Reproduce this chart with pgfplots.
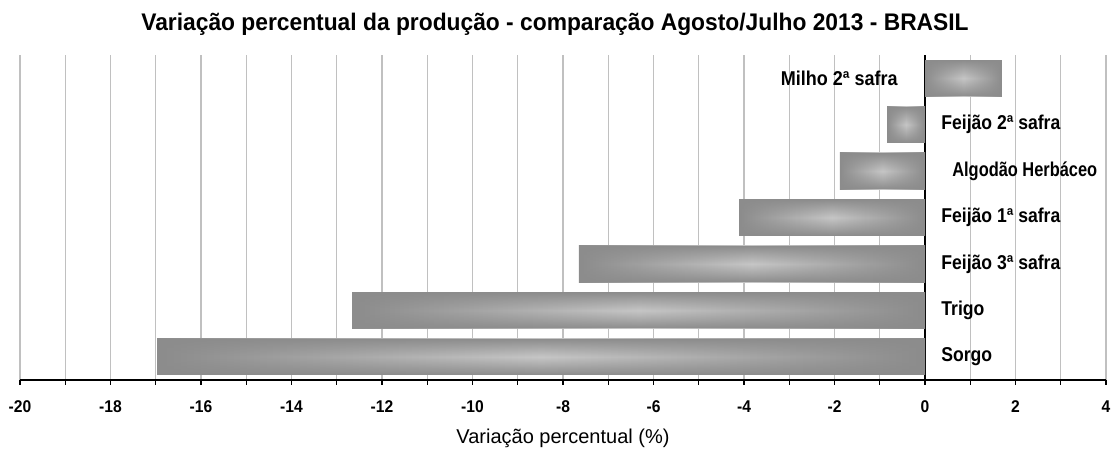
\documentclass[border=0pt]{standalone}
\usepackage{fontspec}
\setmainfont{Liberation Sans}
\usepackage{pgfplots}
\pgfplotsset{compat=1.18}
\usetikzlibrary{fadings}

\definecolor{barDark}{HTML}{8C8C8C}
\definecolor{barLight}{HTML}{C6C6C6}
\definecolor{gridGray}{HTML}{C0C0C0}
% darker at top and bottom of each bar, clear in the middle
\tikzfading[name=vedge, top color=transparent!0, bottom color=transparent!0, middle color=transparent!100]

\pgfplotsset{
    hbar/.style={xbar, bar shift=0pt, bar width=0.78, draw=none,
        left color=barDark, right color=barDark, middle color=barLight, forget plot},
    vbar/.style={xbar, bar shift=0pt, bar width=0.78, draw=none,
        fill=barDark, path fading=vedge, forget plot},
    lbl/.style={draw=none, mark=none, nodes near coords, point meta=explicit symbolic},
}
% one bar = two single-point plots, so the shading fits that bar only
\newcommand{\shbar}[2]{%
    \addplot[hbar] coordinates {(#1,#2)};
    \addplot[vbar] coordinates {(#1,#2)};
}

\begin{document}
\begin{tikzpicture}
\begin{axis}[
    scale only axis,
    width=543pt, height=162.5pt,
    xmin=-20, xmax=4,
    ymin=-0.5, ymax=6.5,
    axis x line*=bottom,
    axis y line=none,
    xtick={-20,-18,...,4},
    minor x tick num=1,
    xmajorgrids, xminorgrids,
    grid style={gridGray, line width=0.6pt},
    minor grid style={gridGray, line width=0.6pt},
    tick align=outside,
    major tick length=2.5pt, minor tick length=2.5pt,
    tick style={black, line width=0.6pt},
    x axis line style={black, line width=0.6pt, -},
    /pgf/number format/assume math mode=true,
    ticklabel style={font=\bfseries\fontsize{8.5}{10}\selectfont, xscale=0.92, yshift=-4.5pt},
    xlabel={Variação percentual (\%)},
    xlabel style={font=\fontsize{10}{12}\selectfont, yshift=1.5pt},
    extra x ticks={0},
    extra x tick labels={},
    extra x tick style={grid style={black, line width=1.2pt}, major tick length=0pt},
]
% Sorgo, Trigo, Feijao 3a, Feijao 1a, Algodao, Feijao 2a, Milho 2a
\shbar{-16.97}{0}
\shbar{-12.66}{1}
\shbar{-7.65}{2}
\shbar{-4.11}{3}
\shbar{-1.88}{4}
\shbar{-0.84}{5}
\shbar{1.70}{6}

% category labels beside the zero line
\addplot[lbl, nodes near coords style={anchor=west, xshift=8pt, inner sep=0pt, text=black,
        xscale=0.88, font=\bfseries\fontsize{10}{12}\selectfont}]
coordinates {(0,0) [Sorgo] (0,1) [Trigo] (0,2) [Feijão 3ª safra] (0,3) [Feijão 1ª safra] (0,5) [Feijão 2ª safra]};
\addplot[lbl, nodes near coords style={anchor=west, xshift=13.5pt, inner sep=0pt, text=black,
        xscale=0.82, font=\bfseries\fontsize{10}{12}\selectfont}]
coordinates {(0,4) [Algodão Herbáceo]};
\addplot[lbl, nodes near coords style={anchor=east, xshift=-13.5pt, inner sep=0pt, text=black,
        xscale=0.9, font=\bfseries\fontsize{10}{12}\selectfont}]
coordinates {(0,6) [Milho 2ª safra]};
\end{axis}
\node[xscale=0.95, font=\bfseries\fontsize{12}{14}\selectfont] at ([shift={(-4pt,15.5pt)}]current axis.north)
    {Variação percentual da produção - comparação Agosto/Julho 2013 - BRASIL};
\pgfresetboundingbox
\path[use as bounding box] ([shift={(-10pt,-35pt)}]current axis.south west)
    rectangle ([shift={(3pt,27.5pt)}]current axis.north east);
\end{tikzpicture}
\end{document}
